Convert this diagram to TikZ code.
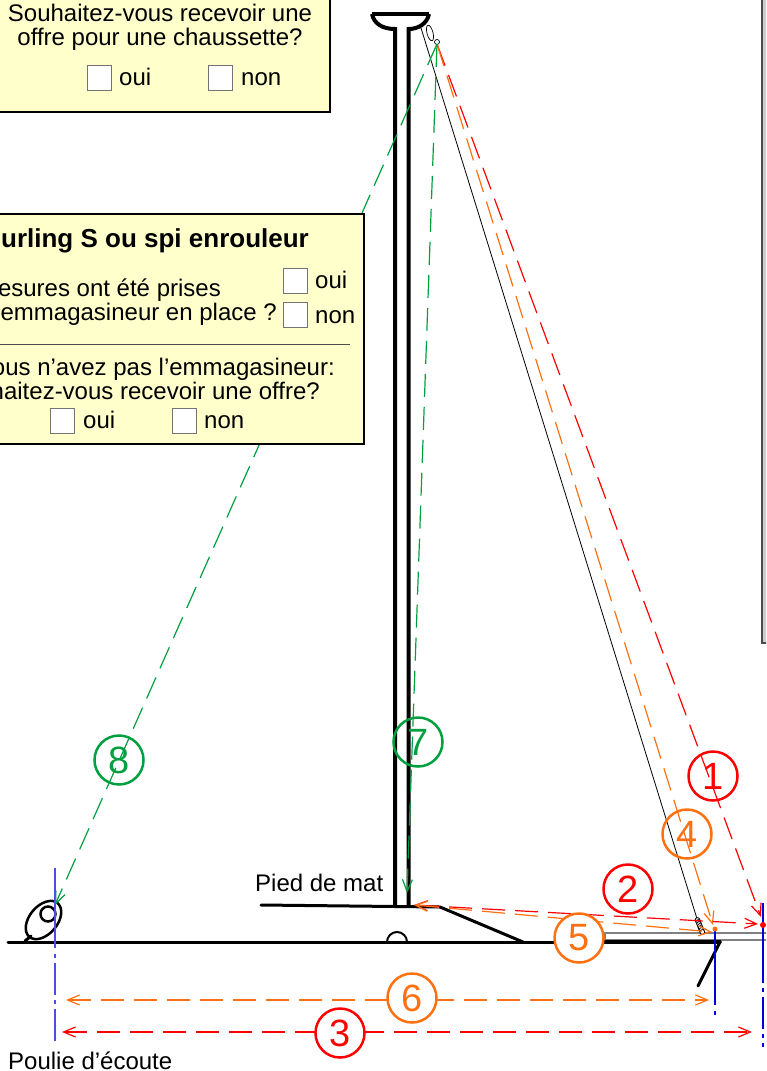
\documentclass[tikz,border=0pt]{standalone}
\usepackage{fontspec}
\setmainfont{Liberation Sans}
\usetikzlibrary{arrows.meta}
\definecolor{paleyellow}{HTML}{FFFFCC}
\definecolor{seared}{HTML}{FF0000}
\definecolor{seaorange}{HTML}{FF7010}
\definecolor{seagreen}{HTML}{00A040}
\definecolor{seablue}{HTML}{0000E0}
\begin{document}
\begin{tikzpicture}[x=1pt,y=-1pt,>={Straight Barb[length=12pt,width=10pt]},
  every node/.style={inner sep=0pt,color=black,font=\fontsize{24}{24}\selectfont},
  hull/.style={line width=3pt,line cap=round},
  panel/.style={draw=black,line width=1.5pt,fill=paleyellow,minimum width=#1},
  tickbox/.style={draw=black!55,line width=1pt,fill=white,minimum width=24pt,minimum height=25pt},
  num/.style={circle,draw=#1,text=#1,line width=2.5pt,minimum size=49pt,font=\fontsize{38}{38}\selectfont},
  measure/.style={draw=#1,line width=1.2pt,dash pattern=on 23pt off 10pt},
  axis/.style={draw=seablue,line width=1.2pt},
  axisdash/.style={axis,dash pattern=on 4pt off 5pt on 32pt off 5pt}]
\clip (0,0) rectangle (766,1071);
\useasboundingbox (0,0) rectangle (766,1071);

\node(side)[draw=black!70,line width=2pt,fill=black!20,minimum width=40pt,minimum height=700pt,anchor=south west] at (761,644) {};

\coordinate(headL) at (372,14); \coordinate(headR) at (429,14);
\coordinate(stayT) at (421,28); \coordinate(stayB) at (698,922);
\coordinate(masthead) at (437,44);
\coordinate(mastfoot) at (414,905);
\coordinate(foot1) at (261,905); \coordinate(foot2) at (440,907); \coordinate(foot3) at (523,942);
\coordinate(deckL) at (8,942); \coordinate(deckM) at (605,942); \coordinate(deckR) at (720,942);
\coordinate(pulpit) at (698,986);
\coordinate(sheave) at (55,905);
\coordinate(tack1) at (761,917); \coordinate(tack2) at (758,924);
\coordinate(tack4) at (713,925); \coordinate(tack5) at (712,932);
\coordinate(mastbase) at (407,893);

\draw[line width=4pt] (headL)--(headR);
\draw[line width=4pt] (headL) .. controls (374,24) and (383,29) .. (395,29) -- (395,907);
\draw[line width=4pt] (headR) .. controls (427,24) and (418,29) .. (408.5,29) -- (408.5,907);
\draw[line width=0.8pt] (stayT)--(stayB);
\draw[line width=0.7pt] (430,33) ellipse [x radius=3,y radius=8,rotate=15];
\draw[line width=0.7pt] (437,42) circle (2.5);

\draw[hull] (foot1)--(foot2)--(foot3);
\draw[hull] (deckL)--(deckM);
\draw[draw=black!50,line width=1.2pt,fill=white] (605,933) rectangle (770,940);
\draw[hull,line width=3.5pt] (deckM)--(deckR);
\draw[hull] (deckR)--(pulpit);
\draw[line width=2pt] (387,942) arc (180:360:10);
\foreach \k in {0,1,2,3,4,5,6} \draw[line width=0.8pt,fill=white] (697.5+0.8*\k,920+2*\k) circle (2.4);

\draw[line width=2.5pt,fill=white] (43.5,920) ellipse [x radius=22,y radius=14,rotate=50];
\draw[line width=2.5pt] (48,914) circle (7.5);
\draw[line width=3pt,line cap=round] (25,941)--(31,936);

\draw[axis,draw=seablue!70] (55,868)--(55,948);
\draw[axisdash,draw=seablue!70] (55,954)--(55,1043);
\draw[axis] (715,930)--(715,1005);
\draw[axisdash] (715,1011)--(715,1016);
\draw[axis] (763,903)--(763,983);
\draw[axisdash] (763,988)--(763,1047);

\node(dotA)[circle,fill=seared,minimum size=6pt] at (763,925) {};
\node(dotB)[circle,fill=seaorange,minimum size=5pt] at (715,929) {};

\draw[measure=seared,->] (masthead)--(tack1);
\draw[measure=seaorange,->] (masthead)--(tack4);
\draw[measure=seagreen,->] (masthead)--(mastbase);
\draw[measure=seagreen,->] (masthead)--(sheave);
\draw[measure=seared,<->] (mastfoot)--(tack2);
\draw[measure=seaorange,<->] (mastfoot)--(tack5);
\coordinate(l3) at (62,1032); \coordinate(r3) at (752,1032);
\coordinate(l6) at (66,1000); \coordinate(r6) at (709,1000);
\draw[measure=seared,<->] (l3)--(r3);
\draw[measure=seaorange,<->] (l6)--(r6);

\node(n1)[num=seared] at (713,776) {1};
\node(n2)[num=seared] at (628,889) {2};
\node(n3)[num=seared,fill=white] at (340,1033) {3};
\node(n4)[num=seaorange] at (687,834) {4};
\node(n5)[num=seaorange,fill=white] at (579,938) {5};
\node(n6)[num=seaorange,fill=white] at (412,998) {6};
\node(n7)[num=seagreen] at (418,742) {7};
\node(n8)[num=seagreen] at (119,760) {8};

\node(offerbox)[panel=350pt,minimum height=132pt] at (155,46) {};
\node(offer1)[anchor=base] at (160,21) {Souhaitez-vous recevoir une};
\node(offer2)[anchor=base] at (160,45) {offre pour une chaussette?};
\node(cb1)[tickbox] at (99,77.5) {};
\node(cb2)[tickbox] at (220.5,77.5) {};
\node(oui1)[anchor=base west] at (119,85) {oui};
\node(non1)[anchor=base west] at (241,85) {non};

\node(furlbox)[panel=384pt,minimum height=230pt] at (172,329) {};
\node(furltitle)[anchor=base east,font=\fontsize{26}{26}\selectfont\bfseries] at (309,247) {urling S ou spi enrouleur};
\node(q1)[anchor=base east] at (221,296) {esures ont été prises};
\node(q2)[anchor=base east] at (277,320) {emmagasineur en place ?};
\node(cb3)[tickbox] at (295,280.5) {};
\node(cb4)[tickbox] at (295,315) {};
\node(oui2)[anchor=base west] at (315,288) {oui};
\node(non2)[anchor=base west] at (315,323) {non};
\draw[draw=black!70,line width=1pt] (-10,344)--(350,344);
\node(q3)[anchor=base east] at (335,375) {ous n’avez pas l’emmagasineur:};
\node(q4)[anchor=base east] at (320,399) {haitez-vous recevoir une offre?};
\node(cb5)[tickbox] at (62,420.5) {};
\node(cb6)[tickbox] at (184,420.5) {};
\node(oui3)[anchor=base west] at (83,428) {oui};
\node(non3)[anchor=base west] at (204,428) {non};

\node(pied)[anchor=base west] at (255,891) {Pied de mat};
\node(poulie)[anchor=base west] at (8,1069) {Poulie d’écoute};
\end{tikzpicture}
\end{document}
